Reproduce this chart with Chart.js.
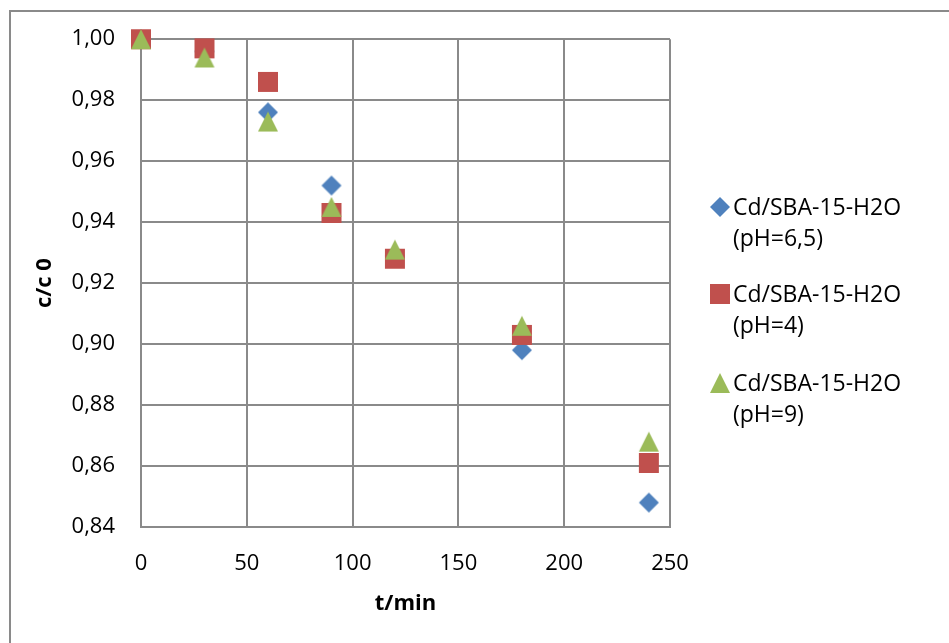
<!DOCTYPE html>
<html>
<head>
<meta charset="utf-8">
<script src="https://cdn.jsdelivr.net/npm/chart.js@4/dist/chart.umd.min.js"></script>
<style>
  html, body { margin: 0; padding: 0; background: #fff; }
  #wrap { position: relative; width: 949px; height: 643px; overflow: hidden; font-family: "Open Sans", sans-serif; }
  #frame { position: absolute; left: 9px; top: 10px; width: 1000px; height: 700px; border: 2px solid #8a8a8a; box-sizing: border-box; }
  #chart { position: absolute; left: 0; top: 0; }
  .mark { position: absolute; }
  .lbl { position: absolute; left: 733px; font-size: 23px; line-height: 31px; color: #000; white-space: nowrap; }
</style>
</head>
<body>
<div id="wrap">
  <div id="frame"></div>
  <canvas id="chart" width="949" height="643"></canvas>
  <div id="legend"></div>
</div>
<script>
// data
const times = [0, 30, 60, 90, 120, 180, 240];
const ph65 = [1.000, 0.996, 0.976, 0.952, 0.929, 0.898, 0.848];
const ph4 = [1.000, 0.997, 0.986, 0.943, 0.928, 0.903, 0.861];
const ph9 = [1.000, 0.994, 0.973, 0.945, 0.931, 0.906, 0.868];
const names = ['Cd/SBA-15-H2O|(pH=6,5)', 'Cd/SBA-15-H2O|(pH=4)', 'Cd/SBA-15-H2O|(pH=9)'];
const colors = ['#4F81BD', '#C0504D', '#9BBB59'];

// marker shapes like excel's
function marker(kind, color) {
  const c = document.createElement('canvas');
  c.width = 22; c.height = 22;
  const g = c.getContext('2d');
  g.fillStyle = color;
  g.beginPath();
  if (kind === 'diamond') {
    g.moveTo(11, 1); g.lineTo(21, 11); g.lineTo(11, 21); g.lineTo(1, 11);
  } else if (kind === 'square') {
    g.rect(1, 1, 20, 20);
  } else {
    g.moveTo(11, 1); g.lineTo(21, 21); g.lineTo(1, 21);
  }
  g.closePath();
  g.fill();
  return c;
}
const kinds = ['diamond', 'square', 'triangle'];
const marks = kinds.map((k, i) => marker(k, colors[i]));

const pts = (ys) => times.map((t, i) => ({ x: t, y: ys[i] }));
const comma = (v, n) => Number(v).toFixed(n).replace('.', ',');

const gridColor = '#8a8a8a';

new Chart(document.getElementById('chart'), {
  type: 'scatter',
  data: {
    datasets: [ph65, ph4, ph9].map((ys, i) => ({
      label: names[i],
      data: pts(ys),
      pointStyle: marks[i],
      backgroundColor: colors[i],
      borderColor: colors[i],
      clip: false,
      order: 3 - i
    }))
  },
  options: {
    responsive: false,
    animation: false,
    devicePixelRatio: 1,
    layout: { padding: { top: 39, right: 279, left: 0, bottom: 0 } },
    plugins: { legend: { display: false }, tooltip: { enabled: false } },
    scales: {
      x: {
        type: 'linear',
        min: 0, max: 250,
        afterFit: (s) => { s.height = 116; },
        ticks: { stepSize: 50, color: '#000', padding: 24, font: { family: 'Open Sans', size: 22 } },
        grid: { color: gridColor, lineWidth: 2, drawTicks: false },
        border: { color: gridColor, width: 2 },
        title: { display: true, text: 't/min', color: '#000', padding: { top: 0, bottom: 26 }, font: { family: 'Open Sans', size: 22, weight: 'bold' } }
      },
      y: {
        min: 0.84, max: 1.0,
        afterFit: (s) => { s.width = 141; },
        ticks: { stepSize: 0.02, color: '#000', padding: 26, font: { family: 'Open Sans', size: 22 }, callback: (v) => comma(v, 2) },
        grid: { color: gridColor, lineWidth: 2, drawTicks: false },
        border: { color: gridColor, width: 2 },
        title: { display: true, text: 'c/c 0', color: '#000', padding: { top: 32, bottom: 0 }, font: { family: 'Open Sans', size: 22, weight: 'bold' } }
      }
    }
  }
});

// legend on the right, two lines per entry
const legend = document.getElementById('legend');
const rowY = [207, 294, 383];
names.forEach((n, i) => {
  const img = document.createElement('img');
  img.src = marks[i].toDataURL();
  img.className = 'mark';
  img.style.left = (720 - 11) + 'px';
  img.style.top = (rowY[i] - 11) + 'px';
  legend.appendChild(img);
  const lbl = document.createElement('div');
  lbl.className = 'lbl';
  lbl.style.top = (rowY[i] - 16) + 'px';
  lbl.innerHTML = n.split('|').join('<br>');
  legend.appendChild(lbl);
});
</script>
</body>
</html>
